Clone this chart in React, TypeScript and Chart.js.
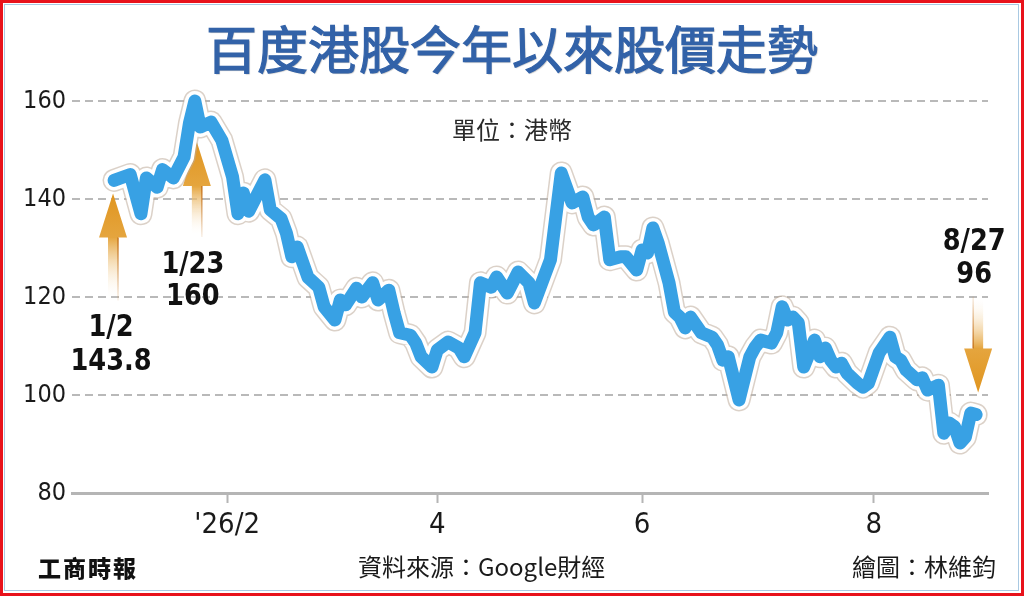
import React, { useEffect, useRef } from "react";
import { Chart, registerables } from "chart.js";

Chart.register(...registerables);

// ---- data (trading-day index since 2026/1/2, HKD close) ----
const tradingDay = [
  0, 3, 5, 6, 8, 9, 11, 13, 14, 15, 16, 18, 20, 22, 23, 24, 25, 28, 29, 31,
  32, 33, 34, 36, 38, 39, 41, 42, 43, 45, 46, 48, 49, 51, 52, 53, 55, 56, 57, 59,
  60, 62, 64, 65, 67, 68, 70, 71, 73, 75, 77, 78, 81, 83, 85, 87, 88, 89, 91, 92,
  94, 95, 97, 98, 99, 100, 101, 103, 104, 105, 106, 107, 109, 111, 112, 113, 114, 116, 118, 119,
  120, 122, 123, 124, 125, 126, 127, 128, 130, 131, 132, 133, 134, 135, 136, 138, 139, 140, 142, 144,
  145, 146, 147, 149, 150, 151, 153, 154, 155, 156, 157, 158, 159, 160,
];
const closePrice = [
  143.8, 145.0, 137.0, 144.3, 142.4, 146.0, 144.3, 148.6, 155.5, 160.0, 154.7, 155.7, 152.0, 144.5, 137.0, 141.2, 137.5, 143.9, 137.8, 136.0,
  133.0, 128.2, 130.2, 124.0, 122.0, 118.0, 115.3, 119.4, 118.4, 121.8, 120.0, 122.9, 119.4, 121.4, 116.7, 112.7, 112.2, 110.6, 107.8, 105.7,
  109.2, 110.8, 109.6, 107.8, 112.7, 122.9, 122.0, 124.1, 120.8, 125.1, 122.9, 118.8, 127.6, 145.3, 139.2, 140.4, 136.3, 134.7, 136.3, 127.6,
  128.2, 128.2, 125.5, 129.6, 129.0, 134.1, 131.0, 122.9, 116.9, 115.9, 113.7, 115.9, 112.7, 111.8, 110.2, 107.1, 107.8, 99.0, 107.8, 109.8,
  111.2, 110.6, 112.7, 118.0, 115.3, 115.9, 114.7, 105.7, 111.2, 107.8, 109.6, 107.1, 105.7, 106.5, 104.5, 102.4, 101.6, 102.4, 108.6, 111.8,
  107.8, 107.1, 105.1, 103.1, 103.5, 101.0, 102.0, 92.2, 94.3, 93.5, 90.2, 91.4, 96.3, 96.0,
];

const monthTickDay = [21, 60, 98, 141];
const monthTickLabel = ["'26/2", "4", "6", "8"];

const markDay = [0, 15, 160];
const markDate = ["1/2", "1/23", "8/27"];
const markPrice = [143.8, 160, 96];
const markText = ["143.8", "160", "96"];

const TITLE = "百度港股今年以來股價走勢";
const UNIT = "單位：港幣";
const SOURCE = "資料來源：Google財經";
const CREDIT = "繪圖：林維鈞";
const PAPER = "工商時報";

// ---- layout / style (kept separate from data) ----
const markLayout = [
  { up: true, dx: -1, tipDy: 13, len: 107, labelDx: -2, dateDy: 135, valueDy: 169 },
  { up: true, dx: 2, tipDy: 41, len: 95, labelDx: -4, dateDy: 123, valueDy: 155 },
  { up: false, dx: 2, tipDy: -22, len: 96, labelDx: -4, dateDy: -151, valueDy: -118 },
];

const NARROW = "'Liberation Sans Narrow', 'DejaVu Sans Condensed', 'Liberation Sans', Arial, sans-serif";
const CJK = "'Noto Sans CJK TC', 'Noto Sans CJK SC', sans-serif";

function drawArrow(ctx: CanvasRenderingContext2D, x: number, tipY: number, len: number, up: boolean) {
  const headLen = 44;
  const headHalf = 14;
  const shaftHalf = 5;
  const s = up ? 1 : -1;
  const baseY = tipY + s * headLen;
  const tailY = tipY + s * len;
  const g = ctx.createLinearGradient(0, tipY, 0, tailY);
  g.addColorStop(0, "#e0951f");
  g.addColorStop(headLen / len, "#e5a53e");
  g.addColorStop(1, "rgba(255,255,255,0)");
  ctx.save();
  ctx.beginPath();
  ctx.moveTo(x, tipY);
  ctx.lineTo(x + headHalf, baseY);
  ctx.lineTo(x + shaftHalf, baseY);
  ctx.lineTo(x + shaftHalf, tailY);
  ctx.lineTo(x - shaftHalf, tailY);
  ctx.lineTo(x - shaftHalf, baseY);
  ctx.lineTo(x - headHalf, baseY);
  ctx.closePath();
  ctx.fillStyle = g;
  ctx.fill();
  const g2 = ctx.createLinearGradient(0, baseY, 0, tailY);
  g2.addColorStop(0, "rgba(196,110,20,0.9)");
  g2.addColorStop(1, "rgba(196,110,20,0.1)");
  ctx.strokeStyle = g2;
  ctx.lineWidth = 1.5;
  const ex = up ? x + shaftHalf : x - shaftHalf;
  ctx.beginPath();
  ctx.moveTo(ex, baseY);
  ctx.lineTo(ex, tailY);
  ctx.stroke();
  ctx.restore();
}

function narrowText(ctx: CanvasRenderingContext2D, text: string, x: number, y: number) {
  ctx.save();
  ctx.translate(x, y);
  ctx.scale(0.92, 1);
  ctx.fillText(text, 0, 0);
  ctx.restore();
}

const markPlugin = {
  id: "marks",
  beforeDatasetsDraw(chart: any) {
    const { ctx, scales } = chart;
    markDay.forEach((d, i) => {
      const L = markLayout[i];
      const x = scales.x.getPixelForValue(d) + L.dx;
      const y = scales.y.getPixelForValue(markPrice[i]) + L.tipDy;
      drawArrow(ctx, x, y, L.len, L.up);
    });
  },
  afterDatasetsDraw(chart: any) {
    const { ctx, scales } = chart;
    ctx.save();
    ctx.fillStyle = "#111";
    ctx.textAlign = "center";
    ctx.textBaseline = "middle";
    ctx.font = `bold 31px ${NARROW}`;
    markDay.forEach((d, i) => {
      const L = markLayout[i];
      const x = scales.x.getPixelForValue(d) + L.dx + L.labelDx;
      const y = scales.y.getPixelForValue(markPrice[i]) + L.tipDy;
      narrowText(ctx, markDate[i], x, y + L.dateDy);
      narrowText(ctx, markText[i], x, y + L.valueDy);
    });
    ctx.restore();
  },
};

export default function App() {
  const ref = useRef<HTMLCanvasElement | null>(null);

  useEffect(() => {
    if (!ref.current) return;
    const points = tradingDay.map((d, i) => ({ x: d, y: closePrice[i] }));
    const common = {
      data: points,
      pointRadius: 0,
      pointHoverRadius: 0,
      fill: false,
      tension: 0,
      borderJoinStyle: "round" as const,
      borderCapStyle: "round" as const,
      clip: false as any,
    };
    const chart = new Chart(ref.current, {
      type: "line",
      data: {
        datasets: [
          { ...common, borderColor: "#38a1e4", borderWidth: 13, order: 0 },
          { ...common, borderColor: "#ffffff", borderWidth: 20, order: 1 },
          { ...common, borderColor: "rgba(190,172,155,0.55)", borderWidth: 23, order: 2 },
        ],
      },
      options: {
        animation: false,
        responsive: false,
        devicePixelRatio: 1,
        layout: { padding: { left: 0, top: 101, right: 36, bottom: 0 } },
        plugins: { legend: { display: false }, tooltip: { enabled: false } },
        scales: {
          x: {
            type: "linear",
            min: -7.8,
            max: 162.2,
            afterBuildTicks: (s: any) => {
              s.ticks = monthTickDay.map((v) => ({ value: v }));
            },
            afterFit: (s: any) => {
              s.height = 103;
              s.paddingLeft = 0;
              s.paddingRight = 0;
            },
            ticks: {
              autoSkip: false,
              maxRotation: 0,
              padding: 5,
              color: "#1a1a1a",
              font: { family: NARROW, size: 29 },
              callback: (v: any) => {
                const k = monthTickDay.indexOf(Number(v));
                return k >= 0 ? monthTickLabel[k] : "";
              },
            },
            grid: {
              display: true,
              drawOnChartArea: false,
              drawTicks: true,
              tickLength: 10,
              tickColor: "#b5b5b5",
              tickWidth: 2,
            },
            border: { display: true, color: "#b5b5b5", width: 3 },
          },
          y: {
            type: "linear",
            min: 80,
            max: 160,
            afterFit: (s: any) => {
              s.width = 72;
              s.paddingTop = 0;
              s.paddingBottom = 0;
            },
            ticks: {
              stepSize: 20,
              padding: 6,
              color: "#1a1a1a",
              font: { family: NARROW, size: 25 },
            },
            grid: {
              drawTicks: false,
              lineWidth: 2,
              color: (c: any) => (c.tick && c.tick.value === 80 ? "rgba(0,0,0,0)" : "#b9b9b9"),
            },
            border: { display: false, dash: [8, 5] },
          },
        },
      },
      plugins: [markPlugin],
    });
    return () => chart.destroy();
  }, []);

  const abs: React.CSSProperties = { position: "absolute", whiteSpace: "nowrap", margin: 0 };

  return (
    <div style={{ position: "absolute", left: 0, top: 0, width: 1024, height: 596, background: "#fff", overflow: "hidden" }}>
      <canvas ref={ref} width={1024} height={596} style={{ position: "absolute", left: 0, top: 0, display: "block" }} />
      <div
        style={{
          ...abs,
          left: 0,
          width: 1024,
          top: 22,
          textAlign: "center",
          fontFamily: CJK,
          fontSize: 51,
          lineHeight: "51px",
          fontWeight: 400,
          color: "#3262a8",
          WebkitTextStroke: "1.2px #3262a8",
          textShadow: "1px 1px 1px rgba(0,0,0,0.25)",
        }}
      >
        {TITLE}
      </div>
      <div style={{ ...abs, left: 452, top: 117, fontFamily: CJK, fontSize: 24, lineHeight: "24px", color: "#2a2a2a" }}>{UNIT}</div>
      <div style={{ ...abs, left: 38, top: 556, fontFamily: CJK, fontSize: 23, lineHeight: "23px", fontWeight: 900, color: "#111", letterSpacing: 2 }}>
        {PAPER}
      </div>
      <div style={{ ...abs, left: 358, top: 554, fontFamily: CJK, fontSize: 24, lineHeight: "24px", color: "#1a1a1a" }}>{SOURCE}</div>
      <div style={{ ...abs, right: 28, top: 554, fontFamily: CJK, fontSize: 24, lineHeight: "24px", color: "#1a1a1a" }}>{CREDIT}</div>
      <div style={{ position: "absolute", left: 4, top: 4, right: 5, bottom: 5, border: "1px solid #a9c9e2", pointerEvents: "none" }} />
      <div
        style={{
          position: "absolute",
          left: 0,
          top: 0,
          width: 1024,
          height: 596,
          boxSizing: "border-box",
          border: "3px solid #e8121b",
          pointerEvents: "none",
        }}
      />
    </div>
  );
}
